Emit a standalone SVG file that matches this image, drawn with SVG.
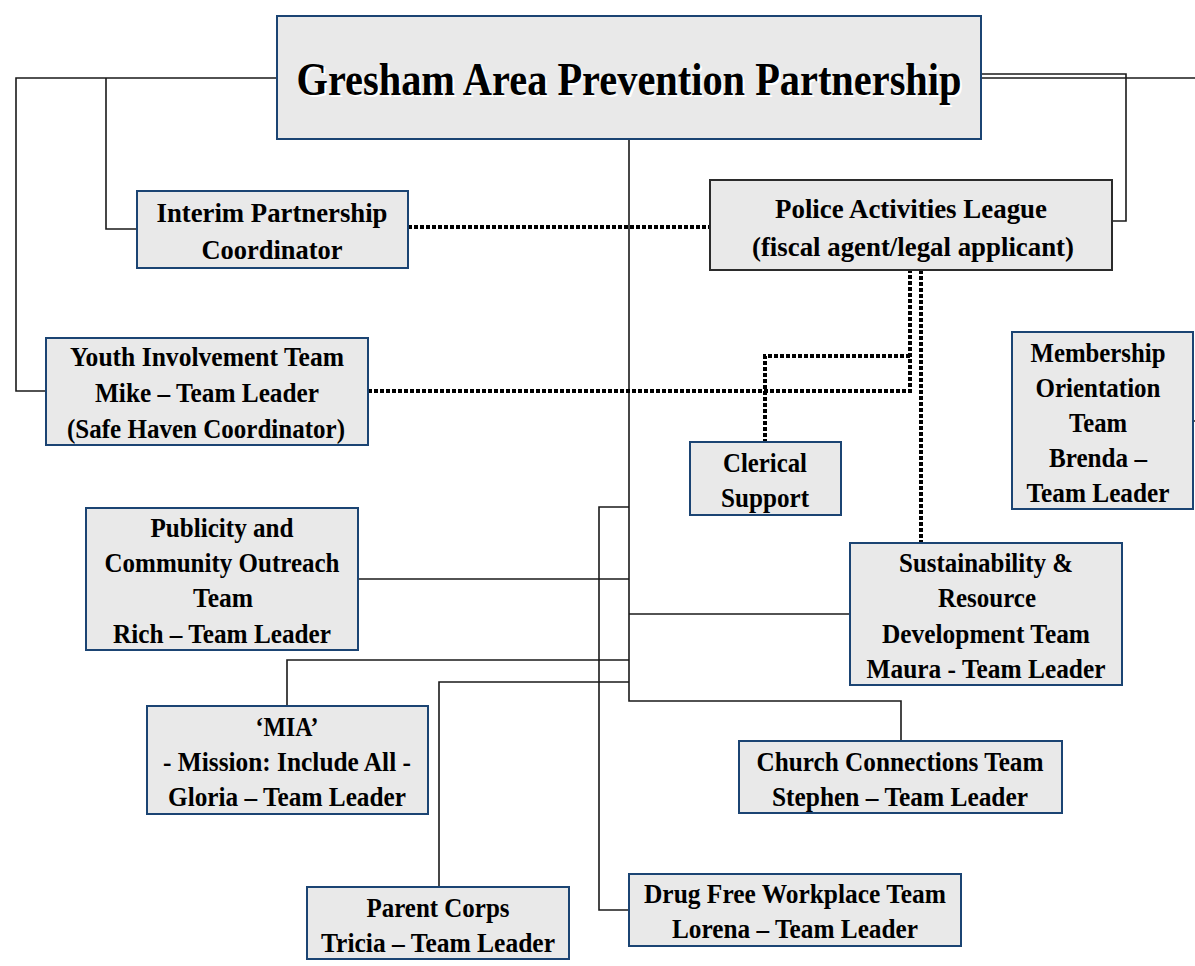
<svg xmlns="http://www.w3.org/2000/svg" width="1195" height="966" viewBox="0 0 1195 966">
<style>
.box{fill:#e9e9e9;stroke:#1b4473;stroke-width:2}
.pal{fill:#e9e9e9;stroke:#2b2b2b;stroke-width:2}
.t{font-family:"Liberation Serif","Times New Roman",serif;font-weight:bold;font-size:28px;fill:#000;text-anchor:middle}
.title{font-size:47px}
.ln{fill:none;stroke:#1a1a1a;stroke-width:1.6}
.dot{fill:none;stroke:#000;stroke-width:4;stroke-dasharray:4 2}
</style>
<rect width="1195" height="966" fill="#fff"/>
<g id="connectors">
<path class="ln" d="M277 78H16V391H46"/>
<path class="ln" d="M106 78V229H137"/>
<path class="ln" d="M981 74H1126V221H1112"/>
<path class="ln" d="M981 78H1195"/>
<path class="ln" d="M1193 421H1195"/>
<path class="ln" d="M629 139V701H901V741"/>
<path class="ln" d="M358 579H629"/>
<path class="ln" d="M629 614H850"/>
<path class="ln" d="M629 660H287V706"/>
<path class="ln" d="M629 682H439V887"/>
<path class="ln" d="M629 507H599V910H629"/>
<path class="dot" d="M408 227H710"/>
<path class="dot" d="M368 391H910V270"/>
<path class="dot" d="M910 356H765V442"/>
<path class="dot" d="M921 270V543"/>
</g>
<g id="gapp">
<rect class="box" x="277" y="16" width="704" height="123"/>
<text class="t title" x="631" y="97" style="fill:#fff" textLength="665" lengthAdjust="spacingAndGlyphs">Gresham Area Prevention Partnership</text>
<text class="t title" x="629" y="95" textLength="665" lengthAdjust="spacingAndGlyphs">Gresham Area Prevention Partnership</text>
</g>
<g id="interim">
<rect class="box" x="137" y="191" width="271" height="77"/>
<text class="t" x="272" y="222" textLength="231" lengthAdjust="spacingAndGlyphs">Interim Partnership</text>
<text class="t" x="272" y="259" textLength="141" lengthAdjust="spacingAndGlyphs">Coordinator</text>
</g>
<g id="pal">
<rect class="pal" x="710" y="180" width="402" height="90"/>
<text class="t" x="911" y="218" textLength="272" lengthAdjust="spacingAndGlyphs">Police Activities League</text>
<text class="t" x="913" y="256" textLength="322" lengthAdjust="spacingAndGlyphs">(fiscal agent/legal applicant)</text>
</g>
<g id="youth">
<rect class="box" x="46" y="338" width="322" height="107"/>
<text class="t" x="207" y="366" textLength="274" lengthAdjust="spacingAndGlyphs">Youth Involvement Team</text>
<text class="t" x="207" y="402" textLength="224" lengthAdjust="spacingAndGlyphs">Mike – Team Leader</text>
<text class="t" x="206" y="438" textLength="278" lengthAdjust="spacingAndGlyphs">(Safe Haven Coordinator)</text>
</g>
<g id="membership">
<rect class="box" x="1012" y="332" width="181" height="177"/>
<text class="t" x="1098" y="362" textLength="135" lengthAdjust="spacingAndGlyphs">Membership</text>
<text class="t" x="1098" y="397" textLength="125" lengthAdjust="spacingAndGlyphs">Orientation</text>
<text class="t" x="1098" y="432" textLength="58" lengthAdjust="spacingAndGlyphs">Team</text>
<text class="t" x="1098" y="467" textLength="98" lengthAdjust="spacingAndGlyphs">Brenda –</text>
<text class="t" x="1098" y="502" textLength="143" lengthAdjust="spacingAndGlyphs">Team Leader</text>
</g>
<g id="clerical">
<rect class="box" x="690" y="442" width="151" height="73"/>
<text class="t" x="765" y="472" textLength="84" lengthAdjust="spacingAndGlyphs">Clerical</text>
<text class="t" x="765" y="507" textLength="88" lengthAdjust="spacingAndGlyphs">Support</text>
</g>
<g id="publicity">
<rect class="box" x="86" y="508" width="272" height="142"/>
<text class="t" x="222" y="537" textLength="143" lengthAdjust="spacingAndGlyphs">Publicity and</text>
<text class="t" x="222" y="572" textLength="235" lengthAdjust="spacingAndGlyphs">Community Outreach</text>
<text class="t" x="223" y="607" textLength="60" lengthAdjust="spacingAndGlyphs">Team</text>
<text class="t" x="222" y="643" textLength="218" lengthAdjust="spacingAndGlyphs">Rich – Team Leader</text>
</g>
<g id="sustainability">
<rect class="box" x="850" y="543" width="272" height="142"/>
<text class="t" x="986" y="572" textLength="174" lengthAdjust="spacingAndGlyphs">Sustainability &amp;</text>
<text class="t" x="987" y="607" textLength="98" lengthAdjust="spacingAndGlyphs">Resource</text>
<text class="t" x="986" y="643" textLength="208" lengthAdjust="spacingAndGlyphs">Development Team</text>
<text class="t" x="986" y="678" textLength="239" lengthAdjust="spacingAndGlyphs">Maura - Team Leader</text>
</g>
<g id="mia">
<rect class="box" x="147" y="706" width="281" height="108"/>
<text class="t" x="287" y="736" textLength="63" lengthAdjust="spacingAndGlyphs">‘MIA’</text>
<text class="t" x="287" y="771" textLength="248" lengthAdjust="spacingAndGlyphs">- Mission: Include All -</text>
<text class="t" x="287" y="806" textLength="238" lengthAdjust="spacingAndGlyphs">Gloria – Team Leader</text>
</g>
<g id="church">
<rect class="box" x="739" y="741" width="323" height="72"/>
<text class="t" x="900" y="771" textLength="287" lengthAdjust="spacingAndGlyphs">Church Connections Team</text>
<text class="t" x="900" y="806" textLength="256" lengthAdjust="spacingAndGlyphs">Stephen – Team Leader</text>
</g>
<g id="drugfree">
<rect class="box" x="629" y="874" width="332" height="72"/>
<text class="t" x="795" y="903" textLength="302" lengthAdjust="spacingAndGlyphs">Drug Free Workplace Team</text>
<text class="t" x="795" y="938" textLength="246" lengthAdjust="spacingAndGlyphs">Lorena – Team Leader</text>
</g>
<g id="parent">
<rect class="box" x="307" y="887" width="262" height="72"/>
<text class="t" x="438" y="917" textLength="143" lengthAdjust="spacingAndGlyphs">Parent Corps</text>
<text class="t" x="438" y="952" textLength="234" lengthAdjust="spacingAndGlyphs">Tricia – Team Leader</text>
</g>
</svg>
